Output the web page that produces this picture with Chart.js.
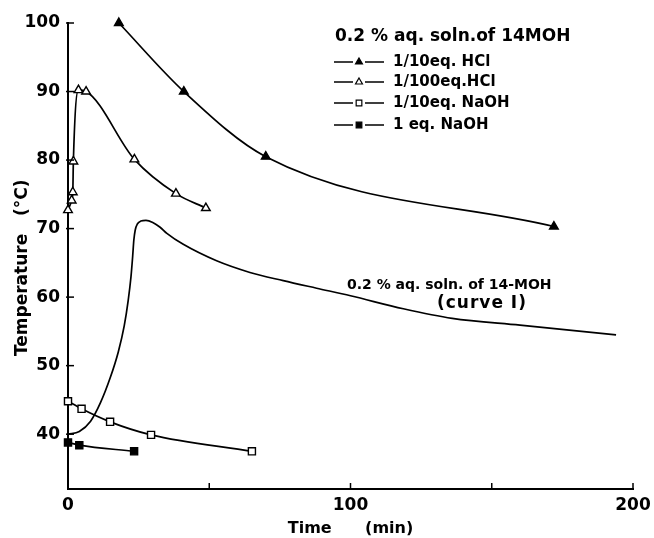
<!DOCTYPE html>
<html>
<head>
<meta charset="utf-8">
<script src="https://cdn.jsdelivr.net/npm/chart.js@4/dist/chart.umd.min.js"></script>
<style>
  html, body { margin: 0; padding: 0; background: #fff; }
  #wrap { width: 654px; height: 538px; position: relative; }
</style>
</head>
<body>
<div id="wrap"><canvas id="tempChart"></canvas></div>
<script>
// values (time in min, temperature in °C)
const hcl10Time = [18, 41, 70, 172];
const hcl10Temp = [100, 90, 80.5, 70.3];

const hcl100Time = [0, 1.3, 1.7, 1.9, 3.7, 6.4, 23.5, 38.2, 48.8];
const hcl100Temp = [72.7, 74.1, 75.3, 79.8, 90.2, 90, 80.1, 75.1, 73];

const naoh10Time = [0, 4.8, 14.9, 29.4, 65.1];
const naoh10Temp = [44.8, 43.7, 41.8, 39.9, 37.5];

const naoh1Time = [0, 4, 23.4];
const naoh1Temp = [38.8, 38.4, 37.5];

// curve I, traced without markers
const curveTime = [0, 4, 8, 11.5, 15, 17.8, 19.9, 21.3, 22.3, 22.9, 23.3, 23.8, 24.6, 25.8, 27.6, 30, 32.6, 35, 40.8, 52.6, 64.4, 76.2, 88, 100, 118.7, 136, 160, 194];
const curveTemp = [40, 40.4, 41.9, 44.6, 48.3, 52, 55.8, 59.5, 63, 66, 68.3, 69.8, 70.7, 71.1, 71.2, 70.9, 70.2, 69.3, 67.7, 65.3, 63.6, 62.4, 61.3, 60.2, 58.3, 56.9, 55.9, 54.5];

const xTicks = [0, 100, 200];
const yTicks = [40, 50, 60, 70, 80, 90, 100];

const legendTitle = '0.2 % aq. soln.of 14MOH';
const legendLabels = ['1/10eq. HCl', '1/100eq.HCl', '1/10eq. NaOH', '1 eq. NaOH'];
const curveNote = ['0.2 % aq. soln. of 14-MOH', '(curve I)'];

const FONT = '"DejaVu Sans", sans-serif';

const toPts = (xs, ys) => xs.map((x, i) => ({ x: x, y: ys[i] }));

const markerSet = (label, xs, ys, style, filled) => ({
    label: label,
    data: toPts(xs, ys),
    showLine: true,
    borderColor: '#000',
    borderWidth: 1.7,
    pointStyle: style,
    pointRadius: 5,
    pointBorderWidth: 1.4,
    pointBorderColor: '#000',
    pointBackgroundColor: filled ? '#000' : '#fff',
    cubicInterpolationMode: 'monotone',
    clip: false
});

// legend drawn in the upper right, like the original figure
const legendBox = {
    id: 'legendBox',
    afterDraw(chart) {
        const ctx = chart.ctx;
        ctx.save();
        ctx.fillStyle = '#000';
        ctx.textBaseline = 'middle';
        ctx.font = 'bold 17px ' + FONT;
        ctx.fillText(legendTitle, 335, 37);
        ctx.font = 'bold 15px ' + FONT;
        const rows = [62, 82, 103, 125];
        legendLabels.forEach((txt, i) => {
            const ds = chart.data.datasets[i];
            const y = rows[i];
            ctx.strokeStyle = '#000';
            ctx.lineWidth = 1.7;
            ctx.beginPath();
            ctx.moveTo(334, y); ctx.lineTo(353, y);
            ctx.moveTo(365, y); ctx.lineTo(384, y);
            ctx.stroke();
            ctx.fillStyle = ds.pointBackgroundColor;
            ctx.lineWidth = 1.2;
            Chart.helpers.drawPoint(ctx, { pointStyle: ds.pointStyle, radius: 4, rotation: 0, borderWidth: 1.2 }, 359, y);
            ctx.fillStyle = '#000';
            ctx.fillText(txt, 393, y);
        });
        // note beside curve I
        ctx.font = 'bold 14px ' + FONT;
        ctx.fillText(curveNote[0], 347, 285);
        ctx.font = 'bold 17px ' + FONT;
        ctx.letterSpacing = '1px';
        ctx.fillText(curveNote[1], 437, 304);
        ctx.restore();
    }
};

// tick marks pointing into the plot, on both axes
const innerTicks = {
    id: 'innerTicks',
    afterDraw(chart) {
        const ctx = chart.ctx;
        const xs = chart.scales.x;
        const ys = chart.scales.y;
        const area = chart.chartArea;
        ctx.save();
        ctx.strokeStyle = '#000';
        ctx.lineWidth = 1.5;
        [50, 100, 150, 200].forEach(v => {
            const px = xs.getPixelForValue(v);
            ctx.beginPath();
            ctx.moveTo(px, area.bottom);
            ctx.lineTo(px, area.bottom - 6);
            ctx.stroke();
        });
        yTicks.forEach(v => {
            const py = ys.getPixelForValue(v);
            ctx.beginPath();
            ctx.moveTo(area.left - 2, py);
            ctx.lineTo(area.left + 6, py);
            ctx.stroke();
        });
        ctx.restore();
    }
};

const ctx = document.getElementById('tempChart').getContext('2d');
new Chart(ctx, {
    type: 'scatter',
    data: {
        datasets: [
            markerSet(legendLabels[0], hcl10Time, hcl10Temp, 'triangle', true),
            markerSet(legendLabels[1], hcl100Time, hcl100Temp, 'triangle', false),
            markerSet(legendLabels[2], naoh10Time, naoh10Temp, 'rect', false),
            markerSet(legendLabels[3], naoh1Time, naoh1Temp, 'rect', true),
            {
                label: 'curve I',
                data: toPts(curveTime, curveTemp),
                showLine: true,
                borderColor: '#000',
                borderWidth: 1.7,
                pointRadius: 0,
                cubicInterpolationMode: 'monotone',
                clip: false
            }
        ]
    },
    options: {
        responsive: true,
        maintainAspectRatio: false,
        animation: false,
        layout: { padding: { top: 23, right: 21, left: 0, bottom: 0 } },
        scales: {
            x: {
                type: 'linear',
                min: 0,
                max: 200,
                afterFit: (scale) => {
                    scale.height = 49;
                    scale.paddingLeft = 0;
                    scale.paddingRight = 0;
                },
                afterBuildTicks: (scale) => { scale.ticks = xTicks.map(v => ({ value: v })); },
                ticks: {
                    color: '#000',
                    font: { family: FONT, size: 17, weight: 'bold' },
                    padding: 6
                },
                grid: { display: false, drawTicks: false },
                border: { color: '#000', width: 2 },
                title: {
                    display: true,
                    text: 'Time      (min)',
                    color: '#000',
                    font: { family: FONT, size: 16, weight: 'bold' },
                    padding: { top: 0, bottom: 0 }
                }
            },
            y: {
                type: 'linear',
                min: 32,
                max: 100,
                afterFit: (scale) => { scale.width = 68; },
                afterBuildTicks: (scale) => { scale.ticks = yTicks.map(v => ({ value: v })); },
                ticks: {
                    color: '#000',
                    font: { family: FONT, size: 17, weight: 'bold' },
                    padding: 8
                },
                grid: { display: false, drawTicks: false },
                border: { color: '#000', width: 2 },
                title: {
                    display: true,
                    text: 'Temperature   (°C)    ',
                    color: '#000',
                    font: { family: FONT, size: 17, weight: 'bold' },
                    padding: { top: 12, bottom: 0 }
                }
            }
        },
        plugins: {
            legend: { display: false },
            tooltip: { enabled: false }
        }
    },
    plugins: [legendBox, innerTicks]
});
</script>
</body>
</html>
